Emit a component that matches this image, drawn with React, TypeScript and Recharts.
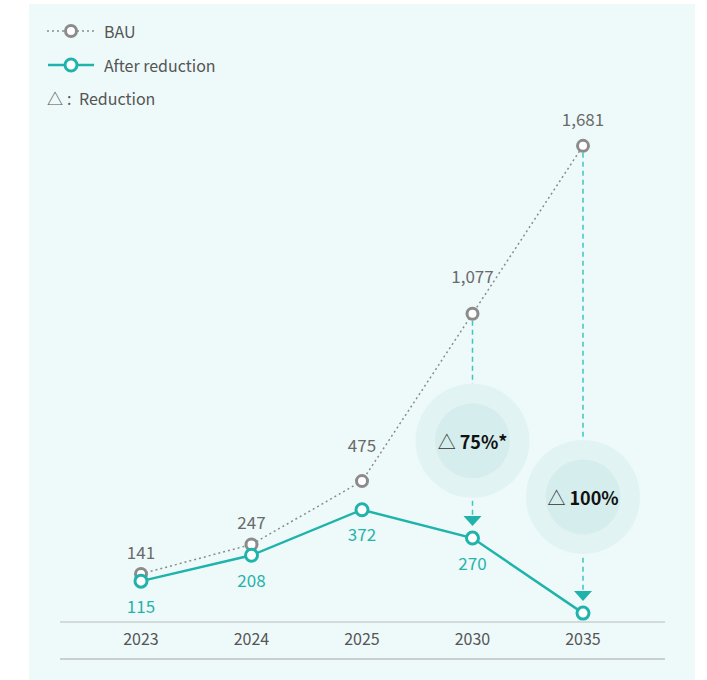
import React from "react";
import {
  LineChart,
  Line,
  XAxis,
  YAxis,
  LabelList,
  ReferenceLine,
  ReferenceDot,
} from "recharts";

// chart values
const years = ["2023", "2024", "2025", "2030", "2035"];
const bau = [141, 247, 475, 1077, 1681];
const afterReduction = [115, 208, 372, 270, 0];
const reductionYears = ["2030", "2035"];
const reductionLabels = ["75%*", "100%"];

// where the reduction bubbles sit (in y-axis units) and label lifts (px)
const bubbleAt = [620, 418];
const bauLabelLift = [22, 23, 37, 38, 27];

const FONT = '"Noto Sans CJK KR", "Noto Sans", sans-serif';
const GREY = "#8b8b8b";
const TEAL = "#1fb3ab";

const chartData = years.map((year, i) => ({
  year,
  bau: bau[i],
  after: afterReduction[i],
}));

const BauLabel = (props: any) => {
  const { x, y, value, index } = props;
  return (
    <text
      x={x}
      y={y - bauLabelLift[index]}
      textAnchor="middle"
      dominantBaseline="central"
      fill="#6a6a6a"
      fontSize={17}
      fontFamily={FONT}
    >
      {Number(value).toLocaleString("en-US")}
    </text>
  );
};

const AfterLabel = (props: any) => {
  const { x, y, value } = props;
  if (!value) return null;
  return (
    <text
      x={x}
      y={y + 24}
      textAnchor="middle"
      dominantBaseline="central"
      fill="#27b2ab"
      fontSize={17}
      fontFamily={FONT}
    >
      {Number(value).toLocaleString("en-US")}
    </text>
  );
};

const ReductionArrow = (props: any) => {
  const { x1, y1, x2, y2 } = props;
  const top = Math.min(y1, y2) + 7;
  const tip = Math.max(y1, y2) - 12;
  return (
    <g>
      <line
        x1={x1}
        y1={top}
        x2={x2}
        y2={tip - 9}
        stroke="#3ec4c1"
        strokeWidth={1.5}
        strokeDasharray="5 4"
      />
      <polygon
        points={`${x1 - 9},${tip - 10} ${x1 + 9},${tip - 10} ${x1},${tip}`}
        fill={TEAL}
      />
    </g>
  );
};

const Bubble = (label: string) => (props: any) => {
  const { cx, cy } = props;
  return (
    <g>
      <circle cx={cx} cy={cy} r={57} fill="#e1f4f3" />
      <circle cx={cx} cy={cy} r={37.5} fill="#d5eeed" />
      <text
        x={cx}
        y={cy}
        textAnchor="middle"
        dominantBaseline="central"
        fontFamily={FONT}
        fontSize={18}
        fill="#111"
      >
        <tspan fill="#333" fontWeight={400}>
          △{" "}
        </tspan>
        <tspan fontWeight={700}>{label}</tspan>
      </text>
    </g>
  );
};

const LegendBox = () => (
  <svg
    width={260}
    height={120}
    style={{ position: "absolute", left: 0, top: 0 }}
    fontFamily={FONT}
  >
    <line x1={47} y1={31} x2={95} y2={31} stroke={GREY} strokeWidth={1.5} strokeDasharray="2 3" />
    <circle cx={71} cy={31} r={5.5} fill="#fff" stroke={GREY} strokeWidth={3} />
    <text x={104} y={31} dominantBaseline="central" fontSize={16} fill="#555">
      BAU
    </text>
    <line x1={48} y1={65} x2={94} y2={65} stroke={TEAL} strokeWidth={2.5} />
    <circle cx={71} cy={65} r={6} fill="#fff" stroke={TEAL} strokeWidth={3} />
    <text x={104} y={65} dominantBaseline="central" fontSize={16} fill="#555">
      After reduction
    </text>
    <text x={47} y={98} dominantBaseline="central" fontSize={16} fill="#555">
      △
    </text>
    <text x={67} y={98} dominantBaseline="central" fontSize={16} fill="#555">
      :
    </text>
    <text x={79} y={98} dominantBaseline="central" fontSize={16} fill="#555">
      Reduction
    </text>
  </svg>
);

export default function App() {
  return (
    <div style={{ position: "absolute", left: 0, top: 0, width: 707, height: 680 }}>
      <div
        style={{
          position: "absolute",
          left: 29,
          top: 4,
          width: 666,
          height: 676,
          background: "#eefafa",
        }}
      />
      <div
        style={{
          position: "absolute",
          left: 60,
          top: 658,
          width: 605,
          height: 1.5,
          background: "#c9cfcf",
        }}
      />
      <LineChart
        width={707}
        height={680}
        data={chartData}
        margin={{ top: 85, right: 42, bottom: 28, left: 60 }}
        style={{ position: "absolute", left: 0, top: 0 }}
      >
        <XAxis
          dataKey="year"
          height={30}
          padding={{ left: 81, right: 82 }}
          tickLine={false}
          tickMargin={6}
          axisLine={{ stroke: "#c9cfcf", strokeWidth: 1.5 }}
          tick={{ fill: "#555", fontSize: 16, fontFamily: FONT }}
        />
        <YAxis hide type="number" domain={[-32, 1900]} />
        {reductionYears.map((yr, i) => (
          <ReferenceDot
            key={"b" + yr}
            x={yr}
            y={bubbleAt[i]}
            r={57}
            shape={Bubble(reductionLabels[i])}
          />
        ))}
        {reductionYears.map((yr) => {
          const idx = years.indexOf(yr);
          return (
            <ReferenceLine
              key={"a" + yr}
              segment={[
                { x: yr, y: bau[idx] },
                { x: yr, y: afterReduction[idx] },
              ]}
              shape={ReductionArrow}
            />
          );
        })}
        <Line
          dataKey="bau"
          stroke={GREY}
          strokeWidth={1.5}
          strokeDasharray="2 3"
          dot={{ r: 5.5, stroke: GREY, strokeWidth: 3, fill: "#fff", strokeDasharray: "" }}
          isAnimationActive={false}
        >
          <LabelList dataKey="bau" content={BauLabel} />
        </Line>
        <Line
          dataKey="after"
          stroke={TEAL}
          strokeWidth={2.5}
          dot={{ r: 6, stroke: TEAL, strokeWidth: 3, fill: "#fff" }}
          isAnimationActive={false}
        >
          <LabelList dataKey="after" content={AfterLabel} />
        </Line>
      </LineChart>
      <LegendBox />
    </div>
  );
}
